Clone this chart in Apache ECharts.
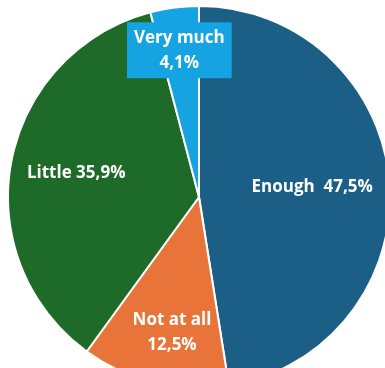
<!DOCTYPE html>
<html>
<head>
<meta charset="utf-8">
<script src="https://cdn.jsdelivr.net/npm/echarts@6/dist/echarts.min.js"></script>
<style>
html,body{margin:0;padding:0;background:#fff;}
#c{width:385px;height:368px;}
</style>
</head>
<body>
<div id="c"></div>
<script>
var categories = ['Enough', 'Not at all', 'Little', 'Very much'];
var values = [47.5, 12.5, 35.9, 4.1];
var labelTexts = ['Enough  47,5%', 'Not at all\n12,5%', 'Little 35,9%', 'Very much\n4,1%'];
var colors = ['#1b5e86', '#e8743a', '#1e6a28', '#15a3e2'];
var labelShift = [[15, -2], [-4, 40], [-26, -6], [-7, -49]];

var data = categories.map(function (c, i) {
  var item = { name: c, value: values[i], itemStyle: { color: colors[i] } };
  if (i === 3) {
    item.label = { backgroundColor: colors[i], padding: [4, 7, 2, 7] };
  }
  return item;
});

var chart = echarts.init(document.getElementById('c'));
chart.setOption({
  backgroundColor: '#fff',
  animation: false,
  series: [{
    type: 'pie',
    center: [199, 197],
    radius: 191,
    startAngle: 90,
    clockwise: true,
    data: data,
    itemStyle: { borderColor: '#fff', borderWidth: 2 },
    label: {
      show: true,
      position: 'inside',
      color: '#fff',
      fontFamily: 'Open Sans',
      fontWeight: 'bold',
      fontSize: 17,
      lineHeight: 25,
      formatter: function (p) { return labelTexts[p.dataIndex]; }
    },
    labelLine: { show: false },
    labelLayout: function (p) {
      var s = labelShift[p.dataIndex];
      return { dx: s[0], dy: s[1] };
    }
  }]
});
</script>
</body>
</html>
